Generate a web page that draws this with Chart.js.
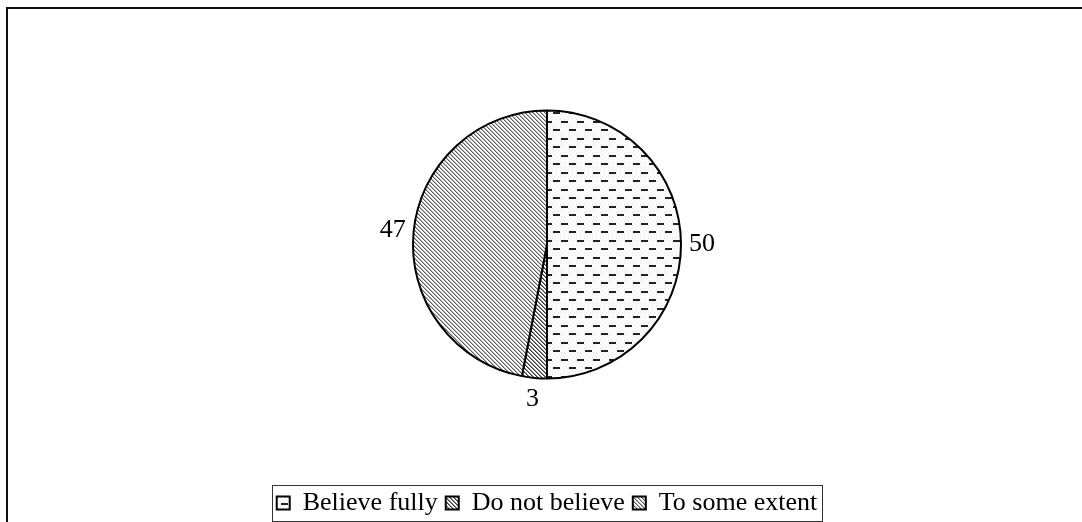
<!DOCTYPE html>
<html>
<head>
<meta charset="utf-8">
<script src="https://cdn.jsdelivr.net/npm/chart.js@4.4.0/dist/chart.umd.min.js"></script>
<style>
html, body { margin: 0; padding: 0; background: #fff; }
#wrap { width: 1082px; height: 522px; position: relative; }
</style>
</head>
<body>
<div id="wrap"><canvas id="chart"></canvas></div>
<script>
const categories = ["Believe fully", "Do not believe", "To some extent"];
const shares = [50, 3, 47];

const serif = "'Liberation Serif', 'Times New Roman', serif";
const textSize = 26;

// small repeating tiles used as slice fills
function tile(w, h, paint) {
    const c = document.createElement("canvas");
    c.width = w;
    c.height = h;
    paint(c.getContext("2d"));
    return document.createElement("canvas").getContext("2d").createPattern(c, "repeat");
}

function dots(g, w, h, color) {
    g.fillStyle = color;
    for (let y = 0; y < h; y += 2) {
        for (let x = y % 4 ? 2 : 0; x < w; x += 4) g.fillRect(x, y, 1, 1);
    }
}

const dashFill = tile(16, 17, g => {
    g.fillStyle = "#fcfcfc";
    g.fillRect(0, 0, 16, 17);
    dots(g, 16, 17, "#ebebeb");
    g.fillStyle = "#222";
    g.fillRect(1, 2, 7, 2);
    g.fillRect(9, 10, 7, 2);
});

function hatch(dark, light) {
    return tile(4, 4, g => {
        g.fillStyle = "#fdfdfd";
        g.fillRect(0, 0, 4, 4);
        for (let i = 0; i < 4; i++) {
            g.fillStyle = dark;
            g.fillRect(i, i, 1, 1);
            g.fillStyle = light;
            g.fillRect((i + 1) % 4, i, 1, 1);
        }
    });
}

const fills = [dashFill, hatch("#3a3a3a", "#8a8a8a"), hatch("#5e5e5e", "#b4b4b4")];

// outer frame: top and left edges only
const frame = {
    id: "frame",
    beforeDraw(chart) {
        const ctx = chart.ctx;
        ctx.save();
        ctx.strokeStyle = "#111";
        ctx.lineWidth = 2;
        ctx.beginPath();
        ctx.moveTo(7, 522);
        ctx.lineTo(7, 8);
        ctx.lineTo(1082, 8);
        ctx.stroke();
        ctx.restore();
    }
};

// value next to each slice
const sliceLabels = {
    id: "sliceLabels",
    afterDatasetsDraw(chart) {
        const ctx = chart.ctx;
        const meta = chart.getDatasetMeta(0);
        ctx.save();
        ctx.font = textSize + "px " + serif;
        ctx.fillStyle = "#000";
        ctx.textAlign = "center";
        ctx.textBaseline = "middle";
        meta.data.forEach((arc, i) => {
            const mid = (arc.startAngle + arc.endAngle) / 2;
            const r = arc.outerRadius + 21;
            ctx.fillText(String(shares[i]), arc.x + Math.cos(mid) * r, arc.y + Math.sin(mid) * r);
        });
        ctx.restore();
    }
};

// box around the legend row
const legendBox = {
    id: "legendBox",
    afterDraw(chart) {
        const lg = chart.legend;
        const pad = lg.options.labels.padding;
        const row = lg.lineWidths[0];
        const start = (lg.left + pad + lg.right - row) / 2;
        const x0 = Math.round(start - 5);
        const x1 = Math.round(start + row - pad + 5);
        const cy = lg.top + pad + textSize / 2;
        const ctx = chart.ctx;
        ctx.save();
        ctx.strokeStyle = "#333";
        ctx.lineWidth = 1;
        ctx.strokeRect(x0 + 0.5, Math.round(cy - 18) + 0.5, x1 - x0, 36);
        ctx.restore();
    }
};

new Chart(document.getElementById("chart"), {
    type: "pie",
    data: {
        labels: categories,
        datasets: [{
            data: shares,
            backgroundColor: fills,
            borderColor: "#000",
            borderWidth: 2,
            radius: 134
        }]
    },
    options: {
        responsive: true,
        maintainAspectRatio: false,
        animation: false,
        layout: { padding: { left: 216, right: 204, top: 7, bottom: -4 } },
        plugins: {
            tooltip: { enabled: false },
            legend: {
                position: "bottom",
                align: "center",
                labels: {
                    boxWidth: 13,
                    boxHeight: 13,
                    padding: 8,
                    color: "#000",
                    font: { family: serif, size: textSize }
                }
            }
        }
    },
    plugins: [frame, sliceLabels, legendBox]
});
</script>
</body>
</html>
